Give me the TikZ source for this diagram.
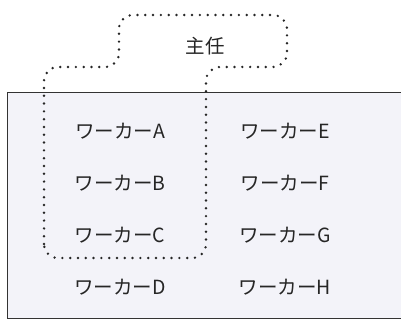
\documentclass[tikz,border=0pt]{standalone}
\usepackage{fontspec}
\setmainfont{Noto Sans CJK JP}
\definecolor{boxfill}{HTML}{F3F3F9}
\begin{document}
\begin{tikzpicture}[x=1pt,y=-1pt,
  worker/.style={font=\fontsize{19.5}{22}\selectfont, text=black!85},
  dotpath/.style={draw=black!85, line width=2.7pt, line cap=round, dash pattern=on 0pt off 7.8pt, rounded corners=14pt},
  frame/.style={draw=black!80, line width=1pt, fill=boxfill}]
\useasboundingbox (0,0) rectangle (401,320);
\path[frame] (7,93) -- (402,93) -- (402,318) -- (7,318) -- cycle;
\draw[dotpath] (44,258) -- (44,67) -- (119,67) -- (119,15) -- (287,15) -- (287,67) -- (206,67) -- (206,258) -- cycle;
\node[worker] (chief) at (205,46) {主任};
\node[worker] (wA) at (120,131) {ワーカーA};
\node[worker] (wB) at (120,183) {ワーカーB};
\node[worker] (wC) at (120,235) {ワーカーC};
\node[worker] (wD) at (120,287) {ワーカーD};
\node[worker] (wE) at (285,131) {ワーカーE};
\node[worker] (wF) at (285,183) {ワーカーF};
\node[worker] (wG) at (285,235) {ワーカーG};
\node[worker] (wH) at (285,287) {ワーカーH};
\end{tikzpicture}
\end{document}
